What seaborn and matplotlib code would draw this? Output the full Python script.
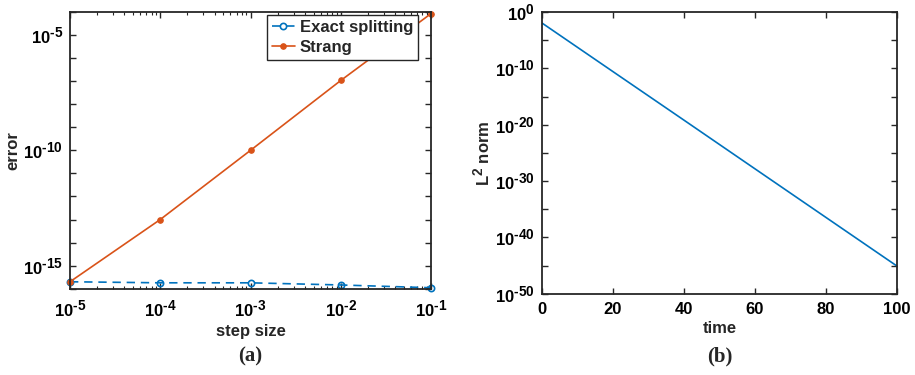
import numpy as np
import pandas as pd
import matplotlib
matplotlib.use("Agg")
import matplotlib.pyplot as plt
import matplotlib.ticker as mticker
import matplotlib._mathtext as _mt
import seaborn as sns

# larger superscripts, as in the reference rendering
_mt.SHRINK_FACTOR = 0.82

# ---- data ----
step_size = [1e-5, 1e-4, 1e-3, 1e-2, 1e-1]
err_exact = [2.0e-16, 1.8e-16, 1.8e-16, 1.45e-16, 1.1e-16]
err_strang = [2.0e-16, 1.0e-13, 1.0e-10, 1.07e-7, 8.5e-5]
series_names = ["Exact splitting", "Strang"]
xtick_exp = [-5, -4, -3, -2, -1]

time_pts = [0, 20, 40, 60, 80, 100]
l2_norm = [1.1e-2, 2.6e-11, 6.3e-20, 1.45e-28, 3.4e-37, 8.0e-46]
time_ticks = [0, 20, 40, 60, 80, 100]

sns.set_style("ticks")
plt.rcParams.update({
    "font.family": ["Liberation Sans", "DejaVu Sans"],
    "font.weight": "bold",
    "axes.labelweight": "bold",
    "mathtext.fontset": "custom",
    "mathtext.rm": "Liberation Sans:bold",
    "mathtext.it": "Liberation Sans:bold",
    "mathtext.bf": "Liberation Sans:bold",
    "mathtext.default": "rm",
    "axes.edgecolor": "#262626",
    "axes.linewidth": 1.3,
    "xtick.direction": "in",
    "ytick.direction": "in",
    "xtick.top": True,
    "ytick.right": True,
    "xtick.color": "#262626",
    "ytick.color": "#262626",
    "xtick.labelcolor": "black",
    "ytick.labelcolor": "black",
})


def pow10(k):
    if k < 0:
        return r"$10^{\text{-}%d}$" % (-k)
    return r"$10^{%d}$" % k


blue = "#0072BD"
orange = "#D95319"
FS = 12

W, H = 915, 375
fig = plt.figure(figsize=(W / 100, H / 100), dpi=100)
axA = fig.add_axes([70 / W, 1 - 288.7 / H, (431 - 70) / W, (288.7 - 12) / H])
axB = fig.add_axes([542 / W, 1 - 293.7 / H, (897 - 542) / W, (293.7 - 12) / H])

# ---- panel (a) ----
dfa = pd.DataFrame({"step": step_size, "exact": err_exact, "strang": err_strang})
axA.set_xscale("log")
axA.set_yscale("log")
sns.lineplot(data=dfa, x="step", y="exact", ax=axA, color=blue, linestyle=(0, (5, 3.5)),
             marker="o", markersize=4.5, markerfacecolor="none", markeredgecolor=blue,
             markeredgewidth=1.2, linewidth=1.2, label=series_names[0], clip_on=False)
sns.lineplot(data=dfa, x="step", y="strang", ax=axA, color=orange, linestyle="-",
             marker="o", markersize=4, markerfacecolor=orange, markeredgecolor=orange,
             linewidth=1.2, label=series_names[1], clip_on=False)
axA.set_xlim(1e-5, 1e-1)
axA.set_ylim(1e-16, 1e-4)
axA.xaxis.set_major_locator(mticker.FixedLocator([10.0 ** k for k in xtick_exp]))
axA.xaxis.set_major_formatter(mticker.FixedFormatter([pow10(k) for k in xtick_exp]))
axA.xaxis.set_minor_locator(mticker.LogLocator(base=10, subs=np.arange(2, 10), numticks=20))
axA.xaxis.set_minor_formatter(mticker.NullFormatter())
ydec = list(range(-16, -3))
axA.yaxis.set_major_locator(mticker.FixedLocator([10.0 ** k for k in ydec]))
axA.yaxis.set_major_formatter(mticker.FixedFormatter(
    [pow10(k) if k in (-15, -10, -5) else "" for k in ydec]))
axA.yaxis.set_minor_locator(mticker.NullLocator())
axA.tick_params(which="major", length=4, width=1.0, labelsize=FS)
axA.tick_params(axis="x", which="major", pad=8)
axA.tick_params(axis="y", which="major", pad=5)
axA.tick_params(which="minor", length=2.5, width=0.8)
axA.set_xlabel("step size", fontsize=FS, fontweight="bold", labelpad=3)
axA.set_ylabel("error", fontsize=FS, fontweight="bold", labelpad=2)
leg = axA.legend(loc="upper right", bbox_to_anchor=(0.965, 0.99),
                 frameon=True, fancybox=False, edgecolor="#262626", framealpha=1,
                 handlelength=1.4, handletextpad=0.3, borderpad=0.3, labelspacing=0.3,
                 borderaxespad=0.0, prop={"weight": "bold", "size": FS})
leg.get_frame().set_linewidth(1.0)

# ---- panel (b) ----
dfb = pd.DataFrame({"time": time_pts, "l2": l2_norm})
axB.set_yscale("log")
sns.lineplot(data=dfb, x="time", y="l2", ax=axB, color=blue, linewidth=1.2)
axB.set_xlim(0, 100)
axB.set_ylim(1e-50, 1e0)
axB.xaxis.set_major_locator(mticker.FixedLocator(time_ticks))
axB.xaxis.set_major_formatter(mticker.FixedFormatter([str(t) for t in time_ticks]))
ymaj = list(range(-50, 1, 10))
axB.yaxis.set_major_locator(mticker.FixedLocator([10.0 ** k for k in ymaj]))
axB.yaxis.set_major_formatter(mticker.FixedFormatter([pow10(k) for k in ymaj]))
axB.yaxis.set_minor_locator(mticker.FixedLocator([10.0 ** k for k in range(-45, 0, 10)]))
axB.yaxis.set_minor_formatter(mticker.NullFormatter())
axB.tick_params(which="major", length=4, width=1.0, labelsize=FS)
axB.tick_params(axis="x", which="major", pad=6)
axB.tick_params(axis="y", which="major", pad=5)
axB.tick_params(which="minor", length=4, width=1.0)
axB.set_xlabel("time", fontsize=FS, fontweight="bold", labelpad=3)
axB.set_ylabel(r"L$^2$ norm", fontsize=FS, fontweight="bold", labelpad=2)

# ---- panel captions ----
for ax, lab in ((axA, "(a)"), (axB, "(b)")):
    pos = ax.get_position()
    fig.text((pos.x0 + pos.x1) / 2, 1 - 356 / H, lab, ha="center", va="center",
             fontsize=15, fontweight="bold", family=["Liberation Serif", "DejaVu Serif"])

fig.savefig("out.png", dpi=100)
